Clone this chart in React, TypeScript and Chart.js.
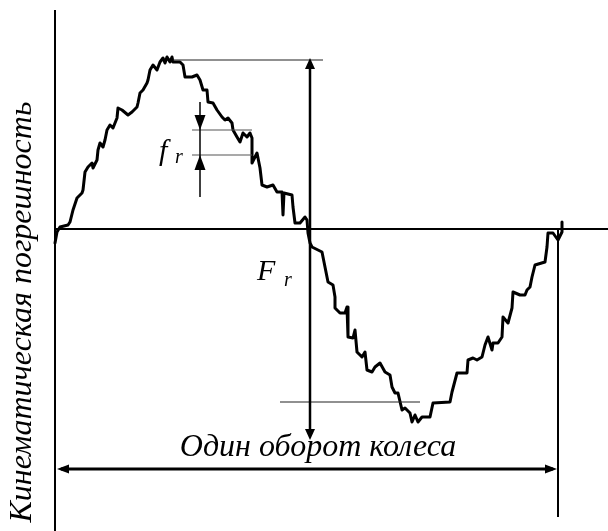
import React, { useEffect, useRef } from "react";
import { Chart, registerables } from "chart.js";

Chart.register(...registerables);

// Angle of wheel rotation (arbitrary units, one revolution = 0..503)
const angle = [
  0, 2, 5, 13, 15, 18, 22, 27, 28, 30, 33, 37, 38, 42, 43, 45, 48, 50, 52, 55,
  58, 62, 63, 67, 73, 77, 82, 83, 85, 88, 92, 93, 95, 98, 102, 105, 108, 110, 112, 115,
  117, 118, 125, 128, 130, 137, 142, 145, 148, 152, 153, 158, 162, 167, 170, 173, 177, 178, 182, 185,
  188, 192, 195, 197, 197, 202, 205, 207, 212, 218, 222, 227, 228, 229, 237, 238, 240, 245, 250, 252,
  253, 255, 257, 263, 267, 270, 273, 278, 280, 280, 285, 290, 292, 293, 298, 300, 302, 307, 310, 312,
  317, 320, 325, 330, 335, 337, 340, 343, 347, 350, 355, 357, 360, 363, 367, 375, 378, 395, 397, 402,
  412, 413, 418, 422, 427, 430, 433, 437, 438, 443, 447, 448, 453, 457, 458, 465, 470, 472, 475, 477,
  480, 490, 492, 493, 498, 503, 507, 507,
];

// Kinematic error (arbitrary units)
const kinematicError = [
  -14, -3, 2, 4, 7, 19, 31, 36, 39, 57, 62, 66, 61, 69, 79, 86, 82, 89, 99, 104,
  101, 111, 121, 119, 114, 117, 122, 126, 136, 139, 146, 149, 159, 164, 159, 167, 171, 166, 172, 167,
  172, 167, 167, 164, 152, 152, 154, 149, 139, 139, 127, 126, 119, 112, 109, 111, 106, 99, 92, 87,
  96, 92, 96, 91, 66, 76, 61, 44, 42, 44, 37, 37, 14, 36, 34, 22, 6, 6, 12, 9,
  -4, -14, -18, -21, -23, -38, -53, -56, -68, -79, -84, -84, -78, -108, -109, -101, -123, -128, -123, -141,
  -143, -138, -134, -143, -146, -158, -164, -164, -181, -179, -184, -193, -186, -193, -188, -188, -174, -173, -163, -144,
  -144, -131, -129, -131, -128, -116, -108, -121, -114, -114, -108, -88, -94, -79, -63, -66, -66, -61, -58, -48,
  -36, -33, -18, -4, -4, -11, -3, 7,
];

const yAxisLabel = "Кинематическая погрешность";
const xAxisLabel = "Один оборот колеса";
const bigLabel = "F";
const smallLabel = "f";
const subLabel = "r";

const FONT = '"Liberation Serif", "DejaVu Serif", serif';

const diagramPlugin = {
  id: "diagram",
  afterDatasetsDraw(chart: any) {
    const { ctx, scales } = chart;
    const X = (v: number) => scales.x.getPixelForValue(v);
    const Y = (v: number) => scales.y.getPixelForValue(v);

    const line = (x1: number, y1: number, x2: number, y2: number, w: number, color = "#000") => {
      ctx.save();
      ctx.strokeStyle = color;
      ctx.lineWidth = w;
      ctx.beginPath();
      ctx.moveTo(X(x1), Y(y1));
      ctx.lineTo(X(x2), Y(y2));
      ctx.stroke();
      ctx.restore();
    };
    // arrowhead: tip at (x,y) in data units
    const head = (x: number, y: number, dir: string, len = 10, half = 4.5) => {
      const px = X(x);
      const py = Y(y);
      ctx.save();
      ctx.fillStyle = "#000";
      ctx.beginPath();
      ctx.moveTo(px, py);
      if (dir === "up") {
        ctx.lineTo(px - half, py + len);
        ctx.lineTo(px + half, py + len);
      } else if (dir === "down") {
        ctx.lineTo(px - half, py - len);
        ctx.lineTo(px + half, py - len);
      } else if (dir === "left") {
        ctx.lineTo(px + len, py - half);
        ctx.lineTo(px + len, py + half);
      } else {
        ctx.lineTo(px - len, py - half);
        ctx.lineTo(px - len, py + half);
      }
      ctx.closePath();
      ctx.fill();
      ctx.restore();
    };

    // axes
    line(0, 219, 0, -302, 2);
    line(0, 0, 553, 0, 2);
    line(503, 0, 503, -288, 2);

    // F_r construction
    line(118, 169, 268, 169, 1.2, "#222");
    line(225, -173, 365, -173, 1.2, "#222");
    line(255, 160, 255, -202, 2.5);
    head(255, 171, "up", 11, 5);
    head(255, -211, "down", 11, 5);

    // f_r construction
    line(137, 99, 197, 99, 1.2, "#555");
    line(137, 74, 197, 74, 1.2, "#555");
    line(145, 127, 145, 32, 1.5);
    head(145, 99, "down", 15, 5.5);
    head(145, 74, "up", 15, 5.5);

    // one revolution double arrow
    line(6, -240, 498, -240, 3);
    head(2, -240, "left", 12, 4.5);
    head(502, -240, "right", 12, 4.5);

    // texts
    ctx.save();
    ctx.fillStyle = "#000";
    ctx.font = `italic 32px ${FONT}`;
    ctx.textAlign = "center";
    ctx.textBaseline = "alphabetic";
    ctx.fillText(xAxisLabel, X(263), Y(-227));

    ctx.save();
    ctx.translate(X(-32), Y(-83));
    ctx.rotate(-Math.PI / 2);
    ctx.textAlign = "center";
    ctx.textBaseline = "middle";
    ctx.font = `italic 32px ${FONT}`;
    ctx.fillText(yAxisLabel, 0, 0);
    ctx.restore();

    ctx.textAlign = "left";
    ctx.font = `italic 30px ${FONT}`;
    ctx.fillText(bigLabel, X(202), Y(-51));
    ctx.font = `italic 20px ${FONT}`;
    ctx.fillText(subLabel, X(229), Y(-57));

    ctx.font = `italic 30px ${FONT}`;
    ctx.fillText(smallLabel, X(104), Y(69));
    ctx.font = `italic 20px ${FONT}`;
    ctx.fillText(subLabel, X(120), Y(66));
    ctx.restore();
  },
};

export default function App() {
  const ref = useRef<HTMLCanvasElement>(null);
  useEffect(() => {
    if (!ref.current) return;
    const data = angle.map((a, i) => ({ x: a, y: kinematicError[i] }));
    const chart = new Chart(ref.current, {
      type: "line",
      data: {
        datasets: [
          {
            data,
            borderColor: "#000",
            borderWidth: 3,
            pointRadius: 0,
            tension: 0,
            fill: false,
            borderJoinStyle: "round",
            borderCapStyle: "round",
          },
        ],
      },
      options: {
        animation: false,
        responsive: false,
        devicePixelRatio: 1,
        layout: { padding: 0 },
        plugins: { legend: { display: false }, tooltip: { enabled: false }, title: { display: false } },
        scales: {
          x: { type: "linear", min: -55, max: 553, display: false },
          y: { type: "linear", min: -302, max: 229, display: false },
        },
      },
      plugins: [diagramPlugin],
    });
    return () => chart.destroy();
  }, []);
  return (
    <div style={{ position: "fixed", left: 0, top: 0, width: 608, height: 531, background: "#fff" }}>
      <canvas ref={ref} width={608} height={531} style={{ display: "block" }} />
    </div>
  );
}
